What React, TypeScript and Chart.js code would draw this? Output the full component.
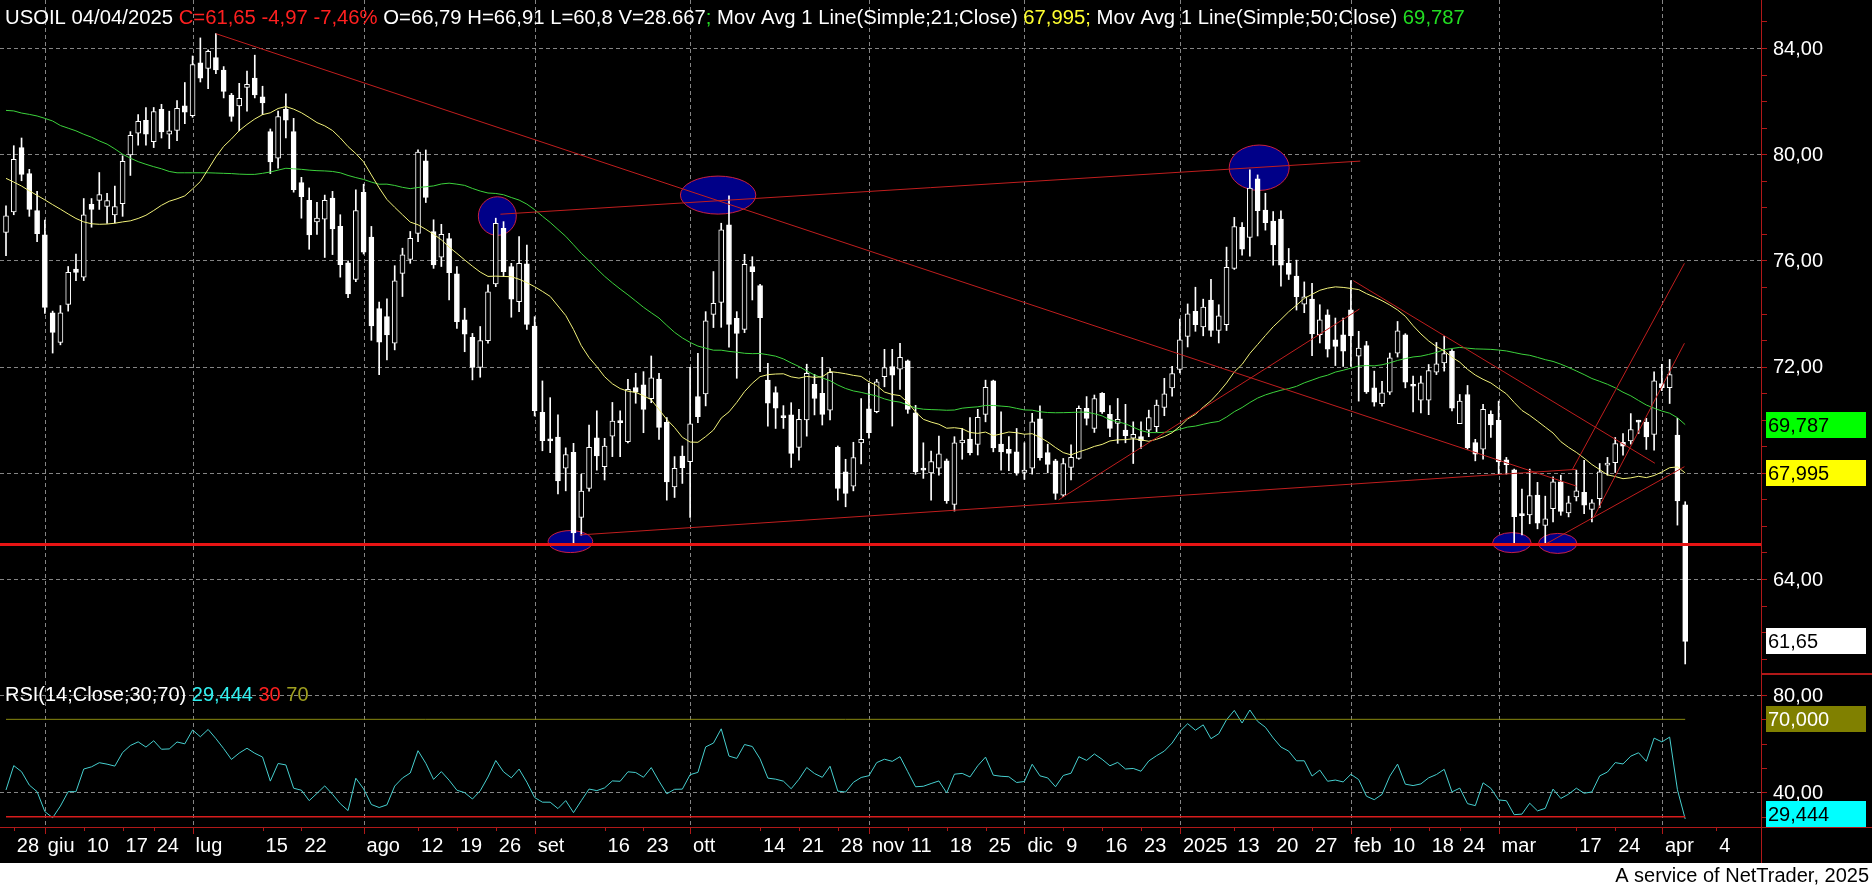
import React, { useEffect, useRef } from "react";
import { Chart, registerables } from "chart.js";

Chart.register(...registerables);

// ---------- data (one entry per trading day) ----------
const OPEN = [
  77.05, 77.83, 80.25, 79.27, 77.88, 76.96, 74.03, 72.91, 74.34, 75.67,
  75.37, 78.11, 78.26, 78.03, 77.71, 78.14, 79.97, 80.79, 81.28, 80.47,
  81.69, 80.75, 80.90, 81.82, 81.45, 83.44, 83.23, 83.64, 83.17, 82.23,
  81.82, 82.52, 82.87, 82.16, 80.85, 79.85, 81.69, 80.85, 78.93, 78.26,
  77.45, 77.55, 78.35, 77.28, 75.91, 75.28, 78.56, 76.88, 74.19, 73.88,
  72.88, 75.51, 76.04, 77.02, 79.75, 77.09, 76.12, 76.82, 75.49, 73.76,
  73.10, 71.97, 72.98, 75.11, 77.21, 75.77, 74.45, 75.87, 73.53, 70.28,
  69.27, 69.35, 68.17, 68.77, 66.32, 67.41, 69.32, 68.23, 69.38, 69.97,
  69.17, 71.21, 71.31, 70.79, 71.53, 69.90, 67.47, 68.63, 68.42, 70.87,
  70.97, 73.97, 74.42, 77.34, 73.82, 73.40, 75.77, 75.05, 71.49, 71.02,
  70.14, 70.18, 68.96, 69.99, 71.33, 70.99, 70.36, 68.96, 68.04, 67.50,
  69.13, 70.41, 70.30, 71.62, 72.00, 71.90, 72.22, 70.26, 68.15, 68.00,
  68.17, 68.45, 66.81, 69.13, 69.27, 69.07, 70.20, 71.46, 69.08, 68.88,
  68.79, 68.01, 68.17, 70.03, 68.76, 68.45, 67.16, 68.20, 68.54, 70.43,
  69.67, 70.99, 70.20, 69.86, 69.61, 69.30, 69.36, 69.61, 69.74, 70.46,
  71.20, 71.89, 73.14, 74.08, 73.49, 74.51, 73.36, 73.58, 75.70, 77.25,
  76.87, 79.07, 77.90, 77.48, 77.56, 75.89, 75.41, 74.35, 74.54, 73.20,
  73.95, 73.01, 73.20, 74.14, 72.39, 72.79, 71.20, 70.60, 71.04, 72.51,
  73.20, 71.33, 70.74, 70.74, 71.79, 72.14, 72.58, 69.85, 70.95, 69.14,
  68.89, 70.20, 69.98, 68.49, 68.11, 66.45, 66.41, 67.16, 66.02, 66.65,
  67.66, 66.49, 67.09, 67.26, 66.62, 67.03, 68.29, 68.38, 69.15, 69.20,
  69.94, 69.91, 69.45, 71.36, 71.21, 69.42, 66.79,
];
const HIGH = [
  78.06, 80.32, 80.61, 79.43, 78.60, 77.52, 74.09, 74.30, 75.77, 76.24,
  78.33, 78.33, 79.31, 78.53, 78.80, 79.94, 80.85, 81.49, 81.76, 81.76,
  81.88, 81.62, 82.02, 82.70, 83.70, 84.38, 83.93, 84.54, 83.30, 82.29,
  82.67, 83.13, 83.73, 82.56, 80.95, 81.62, 82.27, 81.35, 79.13, 78.73,
  78.19, 78.46, 78.60, 77.72, 75.98, 78.66, 78.87, 77.28, 74.43, 74.55,
  75.80, 76.46, 77.09, 80.16, 80.16, 77.53, 77.36, 77.02, 75.77, 74.20,
  73.25, 73.51, 75.08, 77.59, 77.46, 75.89, 76.90, 76.58, 73.88, 71.46,
  70.83, 70.18, 68.94, 69.11, 67.95, 69.80, 70.33, 69.30, 70.65, 70.33,
  71.52, 71.75, 71.81, 72.40, 71.75, 70.08, 68.61, 69.01, 71.97, 72.50,
  74.07, 75.58, 77.40, 78.43, 74.07, 76.23, 76.14, 75.10, 72.12, 71.24,
  70.53, 70.64, 70.39, 72.09, 71.71, 72.35, 71.93, 69.01, 68.51, 69.15,
  70.80, 71.37, 71.52, 72.65, 72.65, 72.88, 72.25, 70.54, 69.13, 68.82,
  69.38, 68.52, 69.36, 69.67, 70.08, 70.39, 71.49, 71.49, 70.30, 69.36,
  69.67, 69.13, 70.24, 70.52, 69.08, 68.51, 68.54, 69.05, 70.52, 70.87,
  70.93, 71.02, 70.53, 70.80, 70.58, 69.92, 69.92, 70.36, 70.74, 71.56,
  72.01, 73.79, 74.36, 74.99, 74.54, 75.29, 74.33, 76.50, 77.62, 77.42,
  79.41, 79.22, 78.53, 77.84, 77.87, 76.45, 76.01, 75.19, 75.14, 74.33,
  74.14, 73.83, 73.83, 75.24, 73.33, 72.95, 71.83, 71.45, 72.51, 73.70,
  73.24, 71.64, 71.64, 72.08, 72.91, 73.14, 72.64, 70.95, 71.29, 69.26,
  70.58, 70.33, 70.70, 68.58, 68.14, 67.39, 68.14, 67.64, 67.12, 67.85,
  67.91, 67.12, 68.10, 68.47, 66.99, 68.35, 68.58, 69.33, 69.48, 70.23,
  69.98, 70.05, 71.80, 72.09, 72.27, 70.05, 66.91,
];
const LOW = [
  76.18, 77.72, 79.00, 77.66, 76.71, 74.00, 72.51, 72.82, 74.09, 75.24,
  75.24, 77.25, 77.92, 77.39, 77.41, 77.66, 79.20, 80.34, 80.34, 80.25,
  80.61, 80.21, 80.51, 81.15, 81.39, 82.72, 82.47, 83.03, 82.12, 81.24,
  80.88, 81.62, 82.12, 81.49, 79.27, 79.47, 80.61, 78.57, 77.59, 76.42,
  76.98, 76.11, 76.22, 75.37, 74.60, 75.20, 76.24, 72.99, 71.70, 72.25,
  72.63, 74.64, 75.89, 76.71, 78.18, 75.70, 75.77, 74.51, 73.44, 72.56,
  71.50, 71.60, 72.88, 75.01, 75.39, 73.86, 74.07, 73.40, 70.14, 68.83,
  68.76, 67.20, 67.32, 65.31, 65.65, 67.31, 68.10, 67.73, 68.61, 68.61,
  69.13, 70.62, 69.51, 70.64, 69.26, 66.97, 67.07, 67.60, 66.32, 69.89,
  70.52, 73.47, 73.48, 72.73, 71.56, 73.28, 74.51, 71.81, 69.76, 69.67,
  69.67, 68.20, 68.48, 69.38, 70.18, 69.80, 69.99, 66.97, 66.72, 67.32,
  68.33, 69.30, 70.26, 71.24, 69.76, 71.14, 70.24, 67.94, 67.79, 66.97,
  67.91, 66.85, 66.56, 68.51, 68.67, 68.67, 69.92, 68.79, 68.10, 68.08,
  67.91, 67.75, 67.95, 68.48, 68.00, 67.00, 67.10, 67.73, 68.51, 69.80,
  69.52, 70.24, 69.36, 69.11, 69.13, 68.35, 68.92, 69.36, 69.55, 70.15,
  70.89, 71.76, 72.74, 73.33, 73.16, 73.14, 72.89, 73.36, 75.66, 76.20,
  76.16, 76.92, 77.14, 75.82, 75.03, 75.28, 74.13, 74.03, 72.41, 72.89,
  72.36, 72.04, 72.01, 72.01, 70.70, 70.99, 70.51, 70.51, 70.95, 72.36,
  71.20, 70.29, 70.26, 70.19, 71.70, 71.83, 70.33, 69.85, 68.89, 68.45,
  68.51, 69.33, 67.95, 67.95, 65.33, 65.66, 66.08, 65.89, 65.33, 66.15,
  66.40, 66.34, 66.94, 66.46, 66.15, 66.69, 67.91, 68.01, 68.66, 69.08,
  69.48, 68.88, 68.85, 71.09, 70.61, 66.03, 60.80,
];
const CLOSE = [
  77.68, 79.81, 79.24, 77.92, 77.01, 74.23, 73.29, 74.03, 75.55, 75.55,
  77.72, 77.92, 78.48, 78.25, 78.03, 79.73, 80.71, 81.24, 80.75, 81.61,
  80.84, 80.88, 81.73, 81.58, 83.38, 82.86, 83.87, 83.17, 82.36, 81.42,
  82.10, 82.63, 82.23, 81.93, 79.71, 81.42, 81.28, 78.66, 78.40, 76.96,
  77.59, 78.26, 77.19, 75.84, 74.74, 77.88, 76.31, 73.53, 72.92, 73.19,
  75.23, 76.21, 76.83, 80.08, 78.37, 75.83, 76.98, 75.54, 73.69, 73.22,
  71.97, 72.98, 74.82, 77.40, 75.58, 74.54, 75.89, 73.59, 70.34, 69.21,
  69.20, 67.69, 68.69, 65.74, 67.31, 68.96, 68.64, 69.01, 69.95, 69.89,
  71.14, 71.04, 70.39, 71.58, 69.71, 67.66, 68.17, 68.19, 69.84, 70.11,
  73.72, 74.38, 77.15, 73.59, 73.25, 75.85, 75.58, 73.84, 70.62, 70.43,
  70.08, 68.73, 70.01, 71.75, 70.80, 70.20, 71.78, 67.41, 67.22, 68.57,
  69.26, 69.51, 71.43, 71.96, 71.68, 72.35, 70.39, 68.04, 68.10, 68.42,
  68.71, 66.95, 69.13, 69.23, 68.76, 70.09, 71.22, 68.94, 68.79, 68.73,
  68.00, 68.10, 69.92, 68.57, 68.32, 67.22, 68.35, 68.58, 70.43, 70.05,
  70.80, 70.29, 69.67, 70.01, 69.40, 69.45, 69.21, 70.08, 70.55, 70.97,
  71.74, 73.01, 73.99, 73.58, 74.24, 73.36, 73.91, 75.74, 77.27, 76.42,
  78.72, 77.87, 77.42, 76.58, 75.82, 75.47, 74.63, 74.63, 73.23, 73.76,
  72.66, 72.76, 72.58, 73.16, 72.70, 71.05, 70.66, 71.01, 72.33, 73.35,
  71.41, 71.26, 71.39, 71.85, 72.10, 72.49, 70.43, 70.70, 68.95, 68.70,
  70.39, 69.80, 68.41, 68.31, 66.35, 66.39, 67.14, 66.10, 66.27, 67.66,
  66.55, 66.87, 67.32, 66.78, 66.87, 68.04, 68.34, 69.10, 69.00, 69.63,
  69.91, 69.35, 71.46, 71.21, 71.70, 66.94, 61.65,
];

// Moving-average values at the left edge (history before the first visible bar)
const MA21_HEAD = [
  79.09, 78.95, 78.80, 78.62, 78.45, 78.28, 78.10, 77.93, 77.75, 77.58,
  77.45, 77.38, 77.36, 77.37, 77.40, 77.45, 77.49, 77.58, 77.70, 77.88,
];
const MA50_HEAD = [
  81.65, 81.63, 81.55, 81.50, 81.44, 81.35, 81.25, 81.08, 80.98, 80.88,
  80.75, 80.64, 80.50, 80.38, 80.20, 80.00, 79.85, 79.72, 79.62, 79.53,
  79.45, 79.35, 79.30, 79.30, 79.30, 79.30, 79.30, 79.29, 79.28, 79.27,
  79.25, 79.24, 79.24, 79.28, 79.33, 79.40, 79.47, 79.45, 79.43, 79.40,
  79.38, 79.37, 79.35, 79.30, 79.20, 79.12, 79.05, 78.95, 78.87,
];
// RSI(14) values of the first bars
const RSI_HEAD = [41.0, 51.0, 48.5, 43.0, 40.3, 32.1, 29.6, 34.4, 40.3, 40.3, 49.6, 50.5, 52.2, 51.6, 50.8];
const RSI_LEVELS = [70, 30];

// x-axis labels: [bar index, text, month start]
const X_TICKS: [number, string, boolean][] = [
  [1, "28", false], [5, "giu", true], [10, "10", false], [15, "17", false], [19, "24", false],
  [24, "lug", true], [33, "15", false], [38, "22", false], [46, "ago", true], [53, "12", false],
  [58, "19", false], [63, "26", false], [68, "set", true], [77, "16", false], [82, "23", false],
  [88, "ott", true], [97, "14", false], [102, "21", false], [107, "28", false], [111, "nov", true],
  [116, "11", false], [121, "18", false], [126, "25", false], [131, "dic", true], [136, "9", false],
  [141, "16", false], [146, "23", false], [151, "2025", true], [158, "13", false], [163, "20", false],
  [168, "27", false], [173, "feb", true], [178, "10", false], [183, "18", false], [187, "24", false],
  [192, "mar", true], [202, "17", false], [207, "24", false], [213, "apr", true], [220, "4", false],
];
const PRICE_LABELS = [84, 80, 76, 72, 68, 64];
const RSI_LABELS = [80, 40];

// drawings: trend lines [i1, p1, i2, p2], ellipses [i, p, radius in bars, radius in price]
const TREND_LINES = [
  [27, 84.54, 202.0, 67.5],
  [63.6, 77.74, 174.2, 79.74],
  [73.8, 65.66, 202.0, 68.13],
  [135.4, 66.98, 174.1, 74.17],
  [173.3, 75.24, 212.1, 68.36],
  [201.5, 68.13, 215.9, 75.89],
  [204.2, 66.3, 215.9, 72.88],
  [198.2, 65.34, 215.9, 68.23],
];
const ELLIPSES = [
  [63.2, 77.67, 2.44, 0.727],
  [91.6, 78.46, 4.85, 0.716],
  [72.6, 65.41, 2.87, 0.414],
  [161.2, 79.49, 3.86, 0.855],
  [193.7, 65.37, 2.47, 0.377],
  [199.6, 65.34, 2.47, 0.377],
];
const SUPPORT = 65.3;

// header / last-value texts as printed on the reference
const SYMBOL = "USOIL 04/04/2025 ";
const CHANGE_TEXT = "-4,97 -7,46%";
const VOLUME_TEXT = "V=28.667";
const LAST_MA21 = "67,995";
const LAST_MA50 = "69,787";
const LAST_RSI = 29.444;

// ---------- derived indicators ----------
function sma(values: number[], head: number[], n: number) {
  const out = head.slice();
  for (let k = head.length; k < values.length; k++) {
    let s = 0;
    for (let j = k - n + 1; j <= k; j++) s += values[j];
    out.push(s / n);
  }
  return out;
}
function rsi(values: number[], head: number[], period: number) {
  const out = head.slice();
  const n0 = head.length;
  let s = 0;
  for (let k = 1; k < n0; k++) s += Math.abs(values[k] - values[k - 1]);
  const m = s / (n0 - 1);
  const r0 = head[n0 - 1] / 100;
  let ag = m * r0;
  let al = m * (1 - r0);
  for (let k = n0; k < values.length; k++) {
    const d = values[k] - values[k - 1];
    ag = (ag * (period - 1) + Math.max(d, 0)) / period;
    al = (al * (period - 1) + Math.max(-d, 0)) / period;
    out.push(al === 0 ? 100 : 100 - 100 / (1 + ag / al));
  }
  return out;
}
const MA21 = sma(CLOSE, MA21_HEAD, 21);
const MA50 = sma(CLOSE, MA50_HEAD, 50);
const RSI = rsi(CLOSE, RSI_HEAD, 14);

// ---------- layout ----------
const W = 1872;
const H1 = 674;
const H2 = 214;
const AXIS_X = 1761;
const X_MIN = -0.772;
const X_MAX = 225.75;
const P_MIN = 60.422;
const P_MAX = 85.808;
const R_MIN = 25.79;
const R_MAX = 88.62;
const RSI_AXIS_Y = 153;
const FOOT_Y = 189;
const FONT = '20px "Liberation Sans", Arial, sans-serif';
const HEAD_FONT = '20.3px "Liberation Sans", Arial, sans-serif';
const GRID = "#858585";
const AXIS_RED = "#b01818";
const LINE_RED = "#c01e1e";

const fmt = (v: number, d: number) => v.toFixed(d).replace(".", ",");

function drawBox(ctx: CanvasRenderingContext2D, yc: number, text: string, bg: string, fg: string, maxBottom?: number) {
  let top = Math.round(yc - 13);
  if (maxBottom !== undefined && top + 26 > maxBottom) top = maxBottom - 26;
  ctx.fillStyle = bg;
  ctx.fillRect(1766, top, 100, 26);
  ctx.fillStyle = fg;
  ctx.textAlign = "left";
  ctx.textBaseline = "middle";
  ctx.fillText(text, 1768, top + 14);
}

function drawSegments(ctx: CanvasRenderingContext2D, parts: [string, string][], x: number, y: number) {
  ctx.textAlign = "left";
  ctx.textBaseline = "middle";
  for (const [t, c] of parts) {
    ctx.fillStyle = c;
    ctx.fillText(t, x, y);
    x += ctx.measureText(t).width;
  }
}

const priceDecor = {
  id: "priceDecor",
  beforeDraw(chart: any) {
    const { ctx, chartArea: a, scales } = chart;
    ctx.save();
    ctx.fillStyle = "#000";
    ctx.fillRect(0, 0, chart.width, chart.height);
    ctx.strokeStyle = GRID;
    ctx.lineWidth = 1;
    ctx.setLineDash([4, 3]);
    ctx.beginPath();
    for (const p of PRICE_LABELS) {
      const y = Math.round(scales.y.getPixelForValue(p)) + 0.5;
      ctx.moveTo(a.left, y);
      ctx.lineTo(a.right, y);
    }
    for (const t of X_TICKS) {
      if (!t[2]) continue;
      const x = Math.round(scales.x.getPixelForValue(t[0])) + 0.5;
      ctx.moveTo(x, a.top);
      ctx.lineTo(x, a.bottom);
    }
    ctx.stroke();
    ctx.restore();
  },
  beforeDatasetsDraw(chart: any) {
    const { ctx, chartArea: a, scales } = chart;
    const xs = scales.x, ys = scales.y;
    ctx.save();
    ctx.beginPath();
    ctx.rect(a.left, a.top, a.right - a.left, a.bottom - a.top);
    ctx.clip();
    for (const [ci, cp, ri, rp] of ELLIPSES) {
      const cx = xs.getPixelForValue(ci);
      const cy = ys.getPixelForValue(cp);
      const rx = Math.abs(xs.getPixelForValue(ci + ri) - cx);
      const ry = Math.abs(ys.getPixelForValue(cp + rp) - cy);
      ctx.beginPath();
      ctx.ellipse(cx, cy, rx, ry, 0, 0, Math.PI * 2);
      ctx.fillStyle = "#000088";
      ctx.fill();
      ctx.strokeStyle = "#c82040";
      ctx.lineWidth = 1;
      ctx.stroke();
    }
    ctx.restore();
  },
  afterDatasetsDraw(chart: any) {
    const { ctx, chartArea: a, scales } = chart;
    const xs = scales.x, ys = scales.y;
    ctx.save();
    ctx.beginPath();
    ctx.rect(a.left, a.top, a.right - a.left, a.bottom - a.top);
    ctx.clip();
    ctx.strokeStyle = LINE_RED;
    ctx.lineWidth = 1;
    for (const [i1, p1, i2, p2] of TREND_LINES) {
      ctx.beginPath();
      ctx.moveTo(xs.getPixelForValue(i1), ys.getPixelForValue(p1));
      ctx.lineTo(xs.getPixelForValue(i2), ys.getPixelForValue(p2));
      ctx.stroke();
    }
    const sy = ys.getPixelForValue(SUPPORT);
    ctx.strokeStyle = "#e81414";
    ctx.lineWidth = 3;
    ctx.beginPath();
    ctx.moveTo(a.left, sy);
    ctx.lineTo(a.right, sy);
    ctx.stroke();
    ctx.restore();
  },
  afterDraw(chart: any) {
    const { ctx, scales } = chart;
    const ys = scales.y;
    ctx.save();
    // right axis
    ctx.strokeStyle = AXIS_RED;
    ctx.lineWidth = 1;
    ctx.beginPath();
    ctx.moveTo(AXIS_X + 0.5, 0);
    ctx.lineTo(AXIS_X + 0.5, H1);
    ctx.moveTo(AXIS_X, H1 - 0.5);
    ctx.lineTo(W, H1 - 0.5);
    for (let p = 61; p <= 85; p++) {
      const y = Math.round(ys.getPixelForValue(p)) + 0.5;
      ctx.moveTo(AXIS_X, y);
      ctx.lineTo(AXIS_X + 6, y);
    }
    ctx.stroke();
    ctx.font = FONT;
    ctx.fillStyle = "#fff";
    ctx.textAlign = "left";
    ctx.textBaseline = "middle";
    for (const p of PRICE_LABELS) ctx.fillText(fmt(p, 2), 1773, ys.getPixelForValue(p) + 1);
    const n = CLOSE.length - 1;
    drawBox(ctx, ys.getPixelForValue(MA50[n]), LAST_MA50, "#00ff00", "#000");
    drawBox(ctx, ys.getPixelForValue(MA21[n]), LAST_MA21, "#ffff00", "#000");
    drawBox(ctx, ys.getPixelForValue(CLOSE[n]), fmt(CLOSE[n], 2), "#ffffff", "#000");
    // header
    ctx.font = HEAD_FONT;
    drawSegments(ctx, [
      [SYMBOL, "#ffffff"],
      [`C=${fmt(CLOSE[n], 2)} ${CHANGE_TEXT}`, "#ff2020"],
      [` O=${fmt(OPEN[n], 2)} H=${fmt(HIGH[n], 2)} L=${fmt(LOW[n], 1)} ${VOLUME_TEXT}`, "#ffffff"],
      [";", "#22dd22"],
      [" Mov Avg 1 Line(Simple;21;Close) ", "#ffffff"],
      [LAST_MA21 + ";", "#ffff30"],
      [" Mov Avg 1 Line(Simple;50;Close) ", "#ffffff"],
      [LAST_MA50, "#22dd22"],
    ], 5, 18);
    ctx.restore();
  },
};

const rsiDecor = {
  id: "rsiDecor",
  beforeDraw(chart: any) {
    const { ctx, chartArea: a, scales } = chart;
    ctx.save();
    ctx.fillStyle = "#000";
    ctx.fillRect(0, 0, chart.width, chart.height);
    ctx.strokeStyle = GRID;
    ctx.lineWidth = 1;
    ctx.setLineDash([4, 3]);
    ctx.beginPath();
    for (const v of RSI_LABELS) {
      const y = Math.round(scales.y.getPixelForValue(v)) + 0.5;
      ctx.moveTo(a.left, y);
      ctx.lineTo(a.right, y);
    }
    for (const t of X_TICKS) {
      if (!t[2]) continue;
      const x = Math.round(scales.x.getPixelForValue(t[0])) + 0.5;
      ctx.moveTo(x, 0);
      ctx.lineTo(x, RSI_AXIS_Y);
    }
    ctx.stroke();
    ctx.restore();
  },
  afterDraw(chart: any) {
    const { ctx, scales } = chart;
    const xs = scales.x, ys = scales.y;
    ctx.save();
    ctx.font = FONT;
    drawSegments(ctx, [
      ["RSI(14;Close;30;70) ", "#ffffff"],
      [fmt(LAST_RSI, 3), "#30f0f0"],
      [" 30", "#ff2020"],
      [" 70", "#a0a020"],
    ], 5, 21);
    // axes
    ctx.strokeStyle = AXIS_RED;
    ctx.lineWidth = 1;
    ctx.beginPath();
    ctx.moveTo(AXIS_X + 0.5, 0);
    ctx.lineTo(AXIS_X + 0.5, FOOT_Y);
    ctx.moveTo(AXIS_X, 0.5);
    ctx.lineTo(W, 0.5);
    ctx.moveTo(0, RSI_AXIS_Y + 0.5);
    ctx.lineTo(W, RSI_AXIS_Y + 0.5);
    for (let v = 30; v <= 80; v += 10) {
      const y = Math.round(ys.getPixelForValue(v)) + 0.5;
      ctx.moveTo(AXIS_X, y);
      ctx.lineTo(AXIS_X + 6, y);
    }
    for (const t of X_TICKS) {
      const x = Math.round(xs.getPixelForValue(t[0])) + 0.5;
      ctx.moveTo(x, RSI_AXIS_Y);
      ctx.lineTo(x, RSI_AXIS_Y + (t[2] ? 7 : 4));
    }
    ctx.stroke();
    ctx.fillStyle = "#fff";
    ctx.textAlign = "left";
    ctx.textBaseline = "middle";
    for (const v of RSI_LABELS) ctx.fillText(fmt(v, 2), 1773, ys.getPixelForValue(v) + 1);
    drawBox(ctx, ys.getPixelForValue(RSI_LEVELS[0]), fmt(RSI_LEVELS[0], 3), "#808000", "#ffffff");
    drawBox(ctx, ys.getPixelForValue(LAST_RSI), fmt(LAST_RSI, 3), "#00ffff", "#000", RSI_AXIS_Y);
    // x labels
    ctx.fillStyle = "#fff";
    for (const t of X_TICKS) ctx.fillText(t[1], xs.getPixelForValue(t[0]) + 3, 172);
    // footer
    ctx.fillStyle = "#fff";
    ctx.fillRect(0, FOOT_Y, W, H2 - FOOT_Y);
    ctx.fillStyle = "#000";
    ctx.textAlign = "right";
    ctx.fillText("A service of NetTrader, 2025", 1869, FOOT_Y + 13);
    ctx.restore();
  },
};

export default function App() {
  const priceRef = useRef<HTMLCanvasElement>(null);
  const rsiRef = useRef<HTMLCanvasElement>(null);

  useEffect(() => {
    const idx = CLOSE.map((_, i) => i);
    const xScale = { type: "linear", min: X_MIN, max: X_MAX, display: false, offset: false };
    const price = new Chart(priceRef.current as HTMLCanvasElement, {
      type: "bar",
      data: {
        datasets: [
          {
            type: "line",
            data: idx.map((i) => ({ x: i, y: MA21[i] })),
            borderColor: "#f2f27a",
            borderWidth: 1,
            pointRadius: 0,
            order: 1,
          },
          {
            type: "line",
            data: idx.map((i) => ({ x: i, y: MA50[i] })),
            borderColor: "#3cd23c",
            borderWidth: 1,
            pointRadius: 0,
            order: 1,
          },
          {
            type: "bar",
            data: idx.map((i) => ({ x: i, y: [LOW[i], HIGH[i]] })),
            backgroundColor: "#ffffff",
            borderWidth: 0,
            barThickness: 1,
            grouped: false,
            order: 3,
          },
          {
            type: "bar",
            data: idx.map((i) => ({ x: i, y: [OPEN[i], CLOSE[i]] })),
            backgroundColor: idx.map((i) => (CLOSE[i] >= OPEN[i] ? "#000000" : "#ffffff")),
            borderColor: "#ffffff",
            borderWidth: 1,
            borderSkipped: false,
            barThickness: 5,
            minBarLength: 2,
            grouped: false,
            order: 2,
          },
        ] as any,
      },
      options: {
        responsive: false,
        animation: false,
        devicePixelRatio: 1,
        events: [],
        layout: { padding: { left: 0, right: W - AXIS_X, top: 0, bottom: 0 } },
        scales: {
          x: xScale as any,
          y: { type: "linear", min: P_MIN, max: P_MAX, display: false },
        },
        plugins: { legend: { display: false }, tooltip: { enabled: false } },
      },
      plugins: [priceDecor],
    });

    const rsiChart = new Chart(rsiRef.current as HTMLCanvasElement, {
      type: "line",
      data: {
        datasets: [
          {
            data: [{ x: 0, y: RSI_LEVELS[0] }, { x: CLOSE.length - 1, y: RSI_LEVELS[0] }],
            borderColor: "#8a8a10",
            borderWidth: 1,
            pointRadius: 0,
          },
          {
            data: [{ x: 0, y: RSI_LEVELS[1] }, { x: CLOSE.length - 1, y: RSI_LEVELS[1] }],
            borderColor: "#d81c1c",
            borderWidth: 1.5,
            pointRadius: 0,
          },
          {
            data: idx.map((i) => ({ x: i, y: RSI[i] })),
            borderColor: "#46cfcf",
            borderWidth: 1,
            pointRadius: 0,
          },
        ] as any,
      },
      options: {
        responsive: false,
        animation: false,
        devicePixelRatio: 1,
        events: [],
        layout: { padding: { left: 0, right: W - AXIS_X, top: 0, bottom: H2 - RSI_AXIS_Y } },
        scales: {
          x: xScale as any,
          y: { type: "linear", min: R_MIN, max: R_MAX, display: false },
        },
        plugins: { legend: { display: false }, tooltip: { enabled: false } },
      },
      plugins: [rsiDecor],
    });

    return () => {
      price.destroy();
      rsiChart.destroy();
    };
  }, []);

  return (
    <div style={{ position: "fixed", left: 0, top: 0, width: W, height: H1 + H2, background: "#000", overflow: "hidden" }}>
      <canvas ref={priceRef} width={W} height={H1} style={{ display: "block", width: W, height: H1 }} />
      <canvas ref={rsiRef} width={W} height={H2} style={{ display: "block", width: W, height: H2 }} />
    </div>
  );
}
